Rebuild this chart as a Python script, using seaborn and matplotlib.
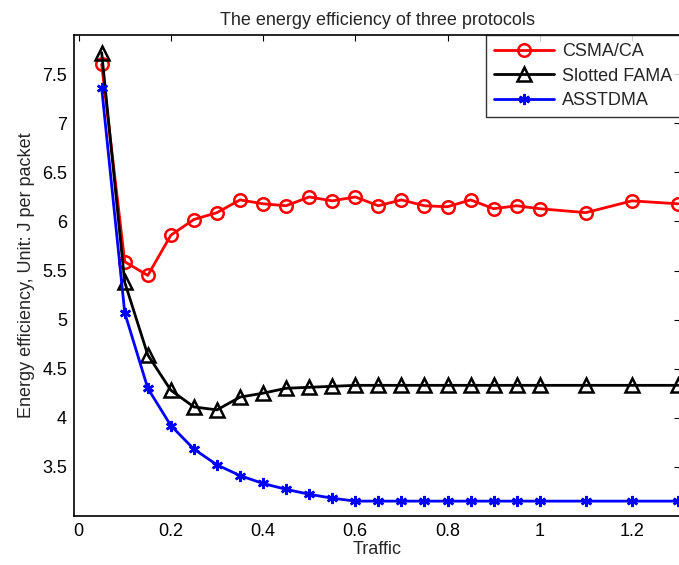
import numpy as np
import pandas as pd
import matplotlib
matplotlib.use('Agg')
import matplotlib.pyplot as plt
import seaborn as sns

traffic = [0.05, 0.10, 0.15, 0.20, 0.25, 0.30, 0.35, 0.40, 0.45, 0.50,
           0.55, 0.60, 0.65, 0.70, 0.75, 0.80, 0.85, 0.90, 0.95, 1.00,
           1.10, 1.20, 1.30]
csma_ca = [7.60, 5.59, 5.45, 5.86, 6.02, 6.09, 6.22, 6.18, 6.16, 6.25,
           6.21, 6.25, 6.16, 6.22, 6.16, 6.15, 6.22, 6.13, 6.16, 6.13,
           6.09, 6.21, 6.18]
slotted_fama = [7.72, 5.38, 4.64, 4.28, 4.11, 4.08, 4.21, 4.25, 4.30, 4.31,
                4.32, 4.33, 4.33, 4.33, 4.33, 4.33, 4.33, 4.33, 4.33, 4.33,
                4.33, 4.33, 4.33]
asstdma = [7.36, 5.07, 4.30, 3.92, 3.68, 3.52, 3.41, 3.33, 3.27, 3.22,
           3.18, 3.15, 3.15, 3.15, 3.15, 3.15, 3.15, 3.15, 3.15, 3.15,
           3.15, 3.15, 3.15]
protocols = ['CSMA/CA', 'Slotted FAMA', 'ASSTDMA']

df = pd.DataFrame({'Traffic': traffic * 3,
                   'value': csma_ca + slotted_fama + asstdma,
                   'protocol': np.repeat(protocols, len(traffic))})

sns.set_style('white')
plt.rcParams['font.family'] = ['Liberation Sans', 'DejaVu Sans']
fs = 13

fig = plt.figure(figsize=(6.79, 5.65), dpi=100)
ax = fig.add_axes([0.109, 0.087, 0.893, 0.851])

styles = {
    'CSMA/CA': dict(color='#ff0000', marker='o', markersize=9,
                    markerfacecolor='none', markeredgecolor='#ff0000',
                    markeredgewidth=1.8),
    'Slotted FAMA': dict(color='black', marker='^', markersize=10,
                         markerfacecolor='none', markeredgecolor='black',
                         markeredgewidth=1.8),
    'ASSTDMA': dict(color='#0000ff', marker=(6, 2, 0), markersize=8,
                    markeredgecolor='#0000ff', markeredgewidth=1.8),
}
for name in protocols:
    sub = df[df['protocol'] == name]
    sns.lineplot(data=sub, x='Traffic', y='value', ax=ax, label=name,
                 linewidth=2, clip_on=False, **styles[name])

ax.set_xlim(-0.01, 1.305)
ax.set_ylim(3.0, 7.9)
ax.set_xticks([0, 0.2, 0.4, 0.6, 0.8, 1.0, 1.2])
ax.set_xticklabels(['0', '0.2', '0.4', '0.6', '0.8', '1', '1.2'])
ax.set_yticks([3.5, 4, 4.5, 5, 5.5, 6, 6.5, 7, 7.5])
ax.set_yticklabels(['3.5', '4', '4.5', '5', '5.5', '6', '6.5', '7', '7.5'])
ax.tick_params(direction='in', top=True, right=True, length=4, width=0.8,
               labelsize=fs, colors='black', pad=5)
for s in ax.spines.values():
    s.set_color('black')
    s.set_linewidth(1.2)

ax.set_title('The energy efficiency of three protocols', fontsize=fs, pad=7)
ax.set_xlabel('Traffic', fontsize=fs, labelpad=1)
ax.set_ylabel('Energy efficiency, Unit: J per packet', fontsize=fs, labelpad=5)

leg = ax.legend(loc='upper right', frameon=True, fancybox=False,
                edgecolor='black', fontsize=fs, borderaxespad=0,
                handlelength=3.3, labelspacing=0.42, borderpad=0.45,
                handletextpad=0.45)
leg.get_frame().set_linewidth(1.0)

fig.savefig('out.png', dpi=100)
